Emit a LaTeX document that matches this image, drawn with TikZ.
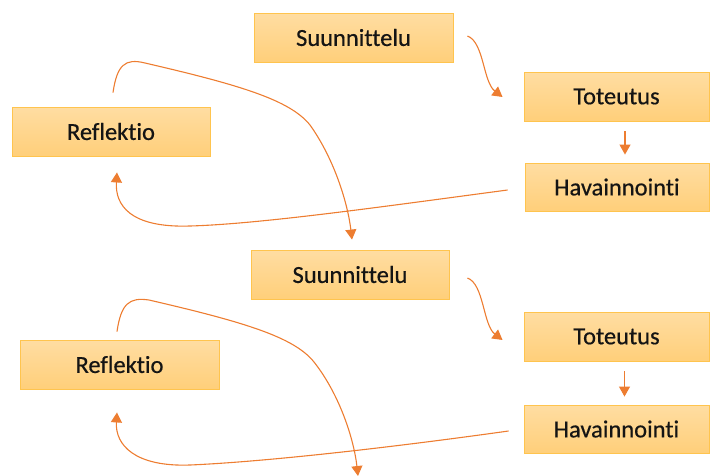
\documentclass[tikz,border=0pt]{standalone}
\usepackage{fontspec}
\setmainfont{Carlito}[Ligatures={NoCommon},FakeBold=0.5]
\usetikzlibrary{arrows.meta,calc}
\definecolor{boxtop}{RGB}{255,221,162}
\definecolor{boxbot}{RGB}{255,207,122}
\definecolor{boxline}{RGB}{255,196,78}
\definecolor{arr}{RGB}{237,125,49}
\definecolor{txt}{RGB}{20,20,20}
\begin{document}
\begin{tikzpicture}[x=1pt,y=-1pt,
  stagebox/.style={rectangle,top color=boxtop,bottom color=boxbot,draw=boxline,line width=0.9pt,
    minimum height=49pt,inner sep=0pt,text=txt,font=\fontsize{24.5}{29}\selectfont},
  conn/.style={draw=arr,line width=1.1pt,-{Triangle[length=10pt,width=11pt]}}]
\useasboundingbox (0,0) rectangle (713,475);
\clip (0,0) rectangle (713,475);
% top cycle
\node[stagebox,minimum width=199pt] (S1) at (353.5,37.5) {Suunnittelu};
\node[stagebox,minimum width=185pt] (T1) at (616.5,96.5) {Toteutus};
\node[stagebox,minimum width=184pt,minimum height=48pt] (H1) at (617,187) {Havainnointi};
\node[stagebox,minimum width=198pt] (R1) at (111,131.5) {Reflektio};
% bottom cycle
\node[stagebox,minimum width=198pt] (S2) at (350,274.5) {Suunnittelu};
\node[stagebox,minimum width=185pt] (T2) at (616.5,336.5) {Toteutus};
\node[stagebox,minimum width=185pt,minimum height=48pt] (H2) at (616.5,429) {Havainnointi};
\node[stagebox,minimum width=199pt] (R2) at (119.5,364.5) {Reflektio};
\coordinate (out) at (358,476);
% connectors top
\draw[conn] ([shift={(14,-1.5)}]S1.east) .. controls (484,42) and (483,82) .. ([shift={(-21,0.5)}]T1.west);
\draw[conn] ([shift={(8.5,10)}]T1.south) -- ([shift={(8,-8)}]H1.north);
\draw[conn] ([shift={(-17,3)}]H1.west) .. controls (380,207) and (260,224) .. (190,226)
  .. controls (130,228) and (115,205) .. ([shift={(6,16)}]R1.south);
\draw[conn] ([shift={(2,-14)}]R1.north) .. controls (117,65) and (125,58) .. (145,63)
  .. controls (240,85) and (290,100) .. (310,125)
  .. controls (335,160) and (348,205) .. ([shift={(2,-10)}]S2.north);
% connectors bottom
\draw[conn] ([shift={(18,3.5)}]S2.east) .. controls (484,284) and (483,325) .. ([shift={(-21,3.5)}]T2.west);
\draw[conn] ([shift={(8,10)}]T2.south) -- ([shift={(8,-8)}]H2.north);
\draw[conn] ([shift={(-15,2)}]H2.west) .. controls (380,449) and (260,462) .. (190,465)
  .. controls (135,467) and (115,445) .. ([shift={(-2.5,23)}]R2.south);
\draw[conn] ([shift={(-2.5,-8)}]R2.north) .. controls (121,304) and (129,297) .. (149,300)
  .. controls (244,322) and (294,337) .. (314,362)
  .. controls (340,395) and (354,440) .. (out);
\end{tikzpicture}
\end{document}
